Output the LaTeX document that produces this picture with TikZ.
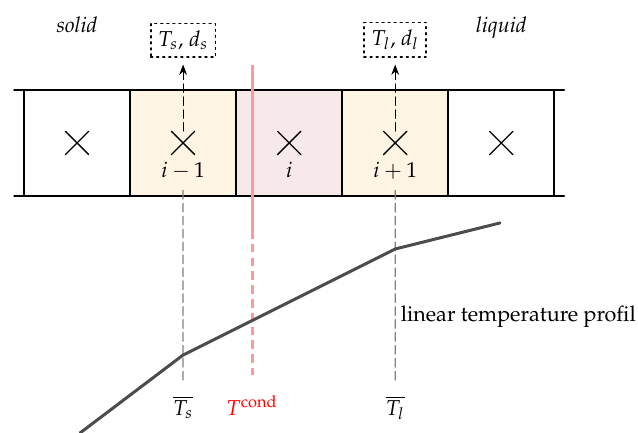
\documentclass[tikz,border=0pt]{standalone}
\usepackage[T1]{fontenc}
\usepackage{mathpazo}
\usepackage{amsmath}
\usepackage{xcolor}
\usepackage{tikz}
\usetikzlibrary{arrows.meta, positioning, shapes.misc}

\definecolor{cellside}{RGB}{253,244,228}
\definecolor{cellmid}{RGB}{247,232,234}

\begin{document}
\begin{tikzpicture}[>=Stealth, line cap=round, line join=round,
    cell/.style={draw, line width=0.9pt, minimum size=1.73cm, inner sep=0pt, outer sep=0pt},
    crossmark/.style={cross out, draw, semithick, minimum size=0.36cm, inner sep=0pt},
    valbox/.style={draw, dotted, thick},
    guide/.style={gray, semithick, dash pattern=on 4pt off 2pt},
    condline/.style={red!40, line width=1.4pt, line cap=butt},
    profile/.style={black!70, line width=1.4pt}]
    \useasboundingbox (-0.392,-3.866) rectangle (10.016,3.197);

    % Cells
    \node[cell] (c1) at (0.865,0.865) {};
    \node[cell, fill=cellside, right=0pt of c1] (c2) {};
    \node[cell, fill=cellmid, right=0pt of c2] (c3) {};
    \node[cell, fill=cellside, right=0pt of c3] (c4) {};
    \node[cell, right=0pt of c4] (c5) {};
    \draw[line width=0.9pt] ([xshift=-0.16cm]c1.south west) -- ([xshift=0.16cm]c5.south east);
    \draw[line width=0.9pt] ([xshift=-0.16cm]c1.north west) -- ([xshift=0.16cm]c5.north east);

    % Cell centres
    \foreach \i in {1,...,5}{
        \node[crossmark] (x\i) at (c\i) {};
    }
    \node[below=0pt of x2] (n2) {$i-1$};
    \node[below=0pt of x3] (n3) {$i$};
    \node[below=0pt of x4] (n4) {$i+1$};

    % Phases
    \node[anchor=base, font=\itshape] (solid) at (0.865,2.66) {solid};
    \node[anchor=base, font=\itshape] (liquid) at (7.785,2.66) {liquid};

    % Values passed on
    \node[valbox, above=0.52cm of c2] (bs) {$T_s$, $d_s$};
    \node[valbox, above=0.52cm of c4] (bl) {$T_l$, $d_l$};
    \draw[->, dash pattern=on 4pt off 2pt, shorten >=3pt] (x2) -- (bs);
    \draw[->, dash pattern=on 4pt off 2pt, shorten >=3pt] (x4) -- (bl);

    % Bottom labels
    \node[anchor=base] (ts) at (2.595,-3.58) {$\overline{T_s}$};
    \node[anchor=base, text=red] (tc) at (3.72,-3.58) {$T^{\text{cond}}$};
    \node[anchor=base] (tl) at (6.055,-3.58) {$\overline{T_l}$};
    \draw[guide, shorten <=4pt] (ts) -- (n2);
    \draw[guide, shorten <=4pt] (tl) -- (n4);

    % Condensation front
    \coordinate (rtop) at (3.72,2.14);
    \coordinate (rmid) at (3.72,-0.555);
    \draw[condline] (rtop) -- (rmid);
    \draw[condline, dash pattern=on 4pt off 2.4pt, shorten >=6pt] (rmid) -- (tc);

    % Temperature
    \draw[profile] (0.914,-3.866) -- (2.595,-2.595) -- (6.055,-0.865) -- (7.765,-0.44);
    \node[anchor=base west, inner sep=0pt] (prof) at (6.14,-2.055) {linear temperature profil};

\end{tikzpicture}
\end{document}
